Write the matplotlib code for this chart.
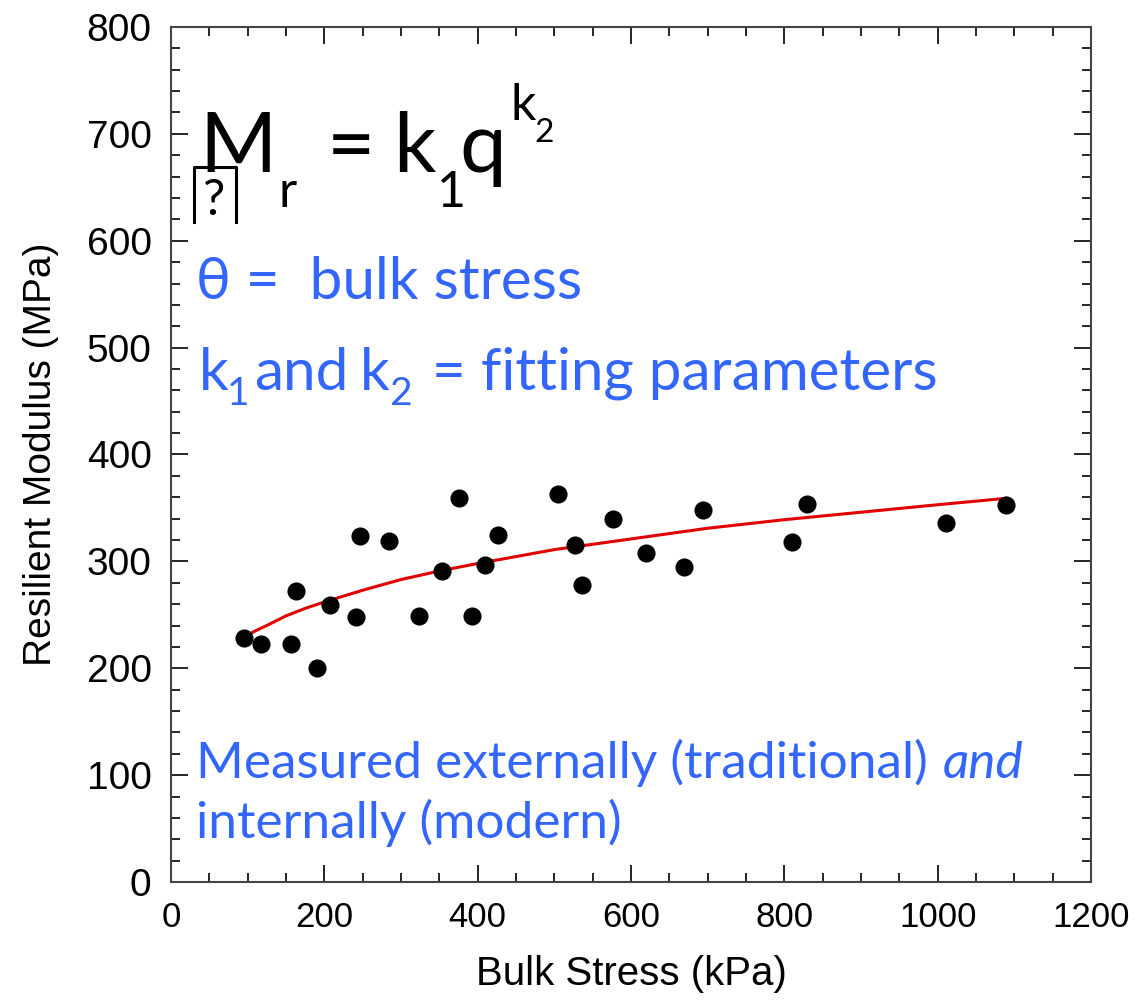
import numpy as np
import matplotlib
matplotlib.use('Agg')
import matplotlib.pyplot as plt
from matplotlib.lines import Line2D
from matplotlib.ticker import MultipleLocator

# measured points (bulk stress kPa, resilient modulus MPa)
bulk_stress = [95, 118, 156, 163, 191, 207, 241, 246, 284, 324, 353, 376,
               392, 409, 427, 505, 527, 536, 577, 619, 669, 694, 810, 830,
               1011, 1089]
modulus = [228, 223, 223, 272, 200, 259, 248, 324, 319, 249, 291, 359,
           249, 297, 325, 363, 315, 278, 340, 308, 295, 348, 318, 354,
           336, 353]

# fitted curve
fit_x = [95, 110, 125, 150, 175, 200, 250, 300, 350, 400, 500, 600, 700,
         800, 900, 1000, 1089]
fit_y = [229, 235, 240, 249, 256, 262, 273, 283, 291, 298, 311, 321, 331,
         339, 346, 353, 359]

x_ticks = [0, 200, 400, 600, 800, 1000, 1200]
y_ticks = [0, 100, 200, 300, 400, 500, 600, 700, 800]

W, H = 1140, 1000
BLUE = '#3366ff'
TXT = 'Lato'

fig = plt.figure(figsize=(W / 100, H / 100), dpi=100)
ax = fig.add_axes([171 / W, 1 - 882 / H, (1091 - 171) / W, (882 - 27) / H])

ax.plot(fit_x, fit_y, color='#e00000', lw=2.2, zorder=2)
ax.scatter(bulk_stress, modulus, s=170, color='black', linewidths=0, zorder=3)

ax.set_xlim(0, 1200)
ax.set_ylim(0, 800)
ax.set_xticks(x_ticks)
ax.set_yticks(y_ticks)
ax.xaxis.set_minor_locator(MultipleLocator(50))
ax.yaxis.set_minor_locator(MultipleLocator(20))
ax.tick_params(which='both', direction='in', top=True, right=True,
               color='black', width=1.2)
ax.tick_params(which='major', length=12, pad=14)
ax.tick_params(which='minor', length=6.5)
ax.tick_params(axis='x', labelsize=25)
ax.tick_params(axis='y', labelsize=28)
for lab in ax.get_xticklabels() + ax.get_yticklabels():
    lab.set_family('Liberation Sans')
for sp in ax.spines.values():
    sp.set_color('#444444')
    sp.set_linewidth(1.5)

ax.set_xlabel('Bulk Stress (kPa)', fontsize=29, family='Liberation Sans')
ax.set_ylabel('Resilient Modulus (MPa)', fontsize=28, family='Liberation Sans')
ax.xaxis.set_label_coords(0.5, -0.085)
ax.yaxis.set_label_coords(-0.122, 0.5)


def put(x, y, s, size, color='black', style='normal', **kw):
    # x, y are pixel positions (baseline) in the figure
    return fig.text(x / W, 1 - y / H, s, fontsize=size, color=color,
                    family=TXT, style=style, va='baseline', ha='left', **kw)


# formula M_r = k_1 q^k_2
put(199, 172, 'M', 60)
put(279, 207, 'r', 36)
put(327, 172, '=', 60)
put(393, 172, 'k', 60)
put(437, 207, '1', 36)
put(459, 172, 'q', 60)
put(510, 120, 'k', 36)
put(534, 142, '2', 24)
put(203, 215, '?', 36)
fig.add_artist(Line2D([194 / W, 194 / W, 236 / W, 236 / W],
                      [1 - 222 / H, 1 - 167 / H, 1 - 167 / H, 1 - 222 / H],
                      color='black', lw=2.2))

# blue notes
put(196, 299, 'θ =  bulk stress', 42, BLUE)
put(199, 390, 'k', 42, BLUE)
put(227, 405, '1', 28, BLUE)
put(254, 390, 'and', 42, BLUE)
put(360, 390, 'k', 42, BLUE)
put(389, 405, '2', 28, BLUE)
put(432, 390, '= fitting parameters', 42, BLUE)
put(196, 778, 'Measured externally (traditional)', 37, BLUE)
put(943, 778, 'and', 37, BLUE, style='italic')
put(196, 838, 'internally (modern)', 37, BLUE)

fig.savefig('out.png', dpi=100)
